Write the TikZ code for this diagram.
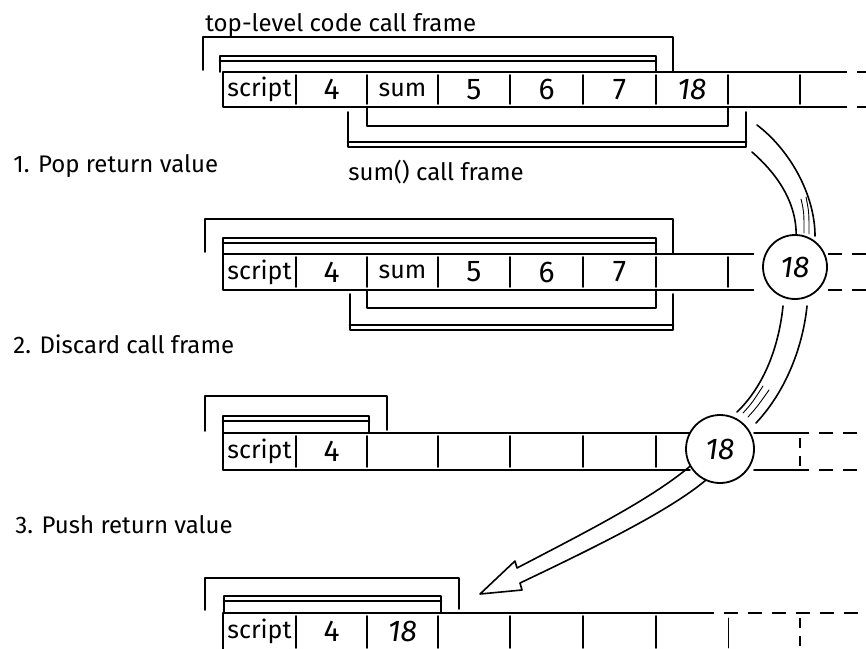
\documentclass[tikz,border=0pt]{standalone}
\usepackage{fontspec}
\setmainfont{Fira Sans}
\usetikzlibrary{positioning,calc}

\tikzset{
  ink/.style={line width=0.8pt, line cap=round, line join=round},
  heavy/.style={line width=1.4pt, line cap=round},
  thin ink/.style={line width=0.45pt, line cap=round},
  fade/.style={line width=0.8pt, dash pattern=on 7pt off 5pt},
  cell/.style={minimum width=36pt, minimum height=18pt, inner sep=0pt, font=\fontsize{12.5}{14}\selectfont},
  num/.style={cell, font=\fontsize{15}{17}\selectfont},
  retnum/.style={cell, font=\fontsize{15}{17}\selectfont\itshape},
  retval/.style={circle, draw, line width=0.9pt, fill=white, inner sep=0pt, font=\fontsize{15}{17}\selectfont\itshape},
  lbl/.style={anchor=base west, inner sep=0pt, font=\fontsize{12}{14}\selectfont},
}

\begin{document}
\begin{tikzpicture}[x=0.5pt,y=-0.5pt]
\useasboundingbox (0,0) rectangle (866,648);
\clip (0,0) rectangle (866,648);

% labels
\node[lbl] (toplbl) at (205,32) {top-level code call frame};
\node[lbl] (sumlbl) at (348,180) {sum() call frame};
\node[lbl] (stage1) at (13,172) {1. Pop return value};
\node[lbl] (stage2) at (13,353) {2. Discard call frame};
\node[lbl] (stage3) at (15,533) {3. Push return value};

% row 1: before popping
\draw[ink] (833,72) -- (223,72) -- (223,107) -- (833,107);
\draw[fade] (833,72) -- (866,72) (833,107) -- (866,107);
\foreach \x in {296,367,438,510,583,656,728,800} \draw[ink] (\x,75) -- (\x,104);
\node[cell] (a1) at (259.5,89.5) {script};
\node[num] (a2) at (331.5,89.5) {4};
\node[cell] (a3) at (402.5,89.5) {sum};
\node[num] (a4) at (474,89.5) {5};
\node[num] (a5) at (546.5,89.5) {6};
\node[num] (a6) at (619.5,89.5) {7};
\node[retnum] (a7) at (692,89.5) {18};
\draw[ink] (203,70) -- (203,37) -- (673,37) -- (673,72);
\draw[ink] (220,72) -- (220,56) -- (656,56) -- (656,72);
\draw[heavy] (220,61) -- (656,61);
\draw[ink] (367,107) -- (367,126) -- (728,126) -- (728,107);
\draw[ink] (348,112) -- (348,147) -- (746,147) -- (746,112);
\draw[heavy] (348,142) -- (746,142);

% row 2: return value popped
\draw[ink] (740,254) -- (223,254) -- (223,290) -- (740,290);
\draw[fade] (740,254) -- (764,254) (740,290) -- (764,290);
\draw[fade] (828,254) -- (866,254) (828,290) -- (866,290);
\foreach \x in {296,367,438,510,583,656,728} \draw[ink] (\x,257) -- (\x,287);
\node[cell] (b1) at (259.5,272) {script};
\node[num] (b2) at (331.5,272) {4};
\node[cell] (b3) at (402.5,272) {sum};
\node[num] (b4) at (474,272) {5};
\node[num] (b5) at (546.5,272) {6};
\node[num] (b6) at (619.5,272) {7};
\draw[ink] (205,252) -- (205,219) -- (673,219) -- (673,254);
\draw[ink] (223,254) -- (223,238) -- (656,238) -- (656,254);
\draw[heavy] (223,243) -- (656,243);
\draw[ink] (367,290) -- (367,308) -- (656,308) -- (656,290);
\draw[ink] (350,294) -- (350,330) -- (673,330) -- (673,294);
\draw[heavy] (350,325) -- (673,325);
\node[retval, minimum size=32pt] (ret1) at (795,267) {18};

% row 3: sum() frame discarded
\draw[ink] (690,433) -- (223,433) -- (223,470) -- (690,470);
\draw[ink] (754,433) -- (795,433) (754,470) -- (795,470);
\draw[fade] (795,433) -- (866,433) (795,470) -- (866,470);
\foreach \x in {296,367,438,510,583,656} \draw[ink] (\x,436) -- (\x,467);
\draw[fade, dash pattern=on 5pt off 4pt] (800,438) -- (800,466);
\node[cell] (c1) at (259.5,451.5) {script};
\node[num] (c2) at (331.5,451.5) {4};
\draw[ink] (205,431) -- (205,396) -- (387,396) -- (387,430);
\draw[ink] (223,433) -- (223,416) -- (369,416) -- (369,433);
\draw[heavy] (223,421) -- (369,421);
\node[retval, minimum size=34pt] (ret2) at (720,449) {18};

% row 4: return value pushed
\draw[ink] (700,613) -- (223,613) -- (223,650);
\draw[fade] (700,613) -- (866,613);
\foreach \x in {296,367,438,510,583,656} \draw[ink] (\x,616) -- (\x,648);
\draw[thin ink] (728,618) -- (728,648);
\draw[fade, dash pattern=on 5pt off 4pt] (800,618) -- (800,648);
\node[cell] (d1) at (259.5,631) {script};
\node[num] (d2) at (331.5,631) {4};
\node[retnum] (d3) at (402.5,631) {18};
\draw[ink] (205,610) -- (205,578) -- (459,578) -- (459,609);
\draw[ink] (224,613) -- (224,596) -- (441,596) -- (441,613);
\draw[heavy] (224,601) -- (441,601);

% pop arrow
\coordinate (popin) at (752,152);
\coordinate (popout) at (757,125);
\draw[ink] (popin) .. controls (775,172) and (796,200) .. (ret1.88);
\draw[ink] (popout) .. controls (790,150) and (815,195) .. (815,236);
\draw[thin ink] (801,199) .. controls (804,212) .. (804,233);
\draw[thin ink] (806,197) .. controls (809,212) .. (809,234);

% discard arrow
\draw[ink] (783,306) .. controls (779,345) and (765,385) .. (737,412);
\draw[ink] (807,306) .. controls (803,345) and (787,390) .. (756,423);
\draw[thin ink] (743,413) .. controls (752,403) .. (763,386);
\draw[thin ink] (748,417) .. controls (757,407) .. (769,390);

% push arrow
\coordinate (push) at (480,594);
\draw[ink] (ret2.210) .. controls (650,500) and (580,535) .. (517,568) -- (515,561) -- (push)
  -- (522,590) -- (520,583) .. controls (600,545) and (670,510) .. (ret2.245);
\end{tikzpicture}
\end{document}
